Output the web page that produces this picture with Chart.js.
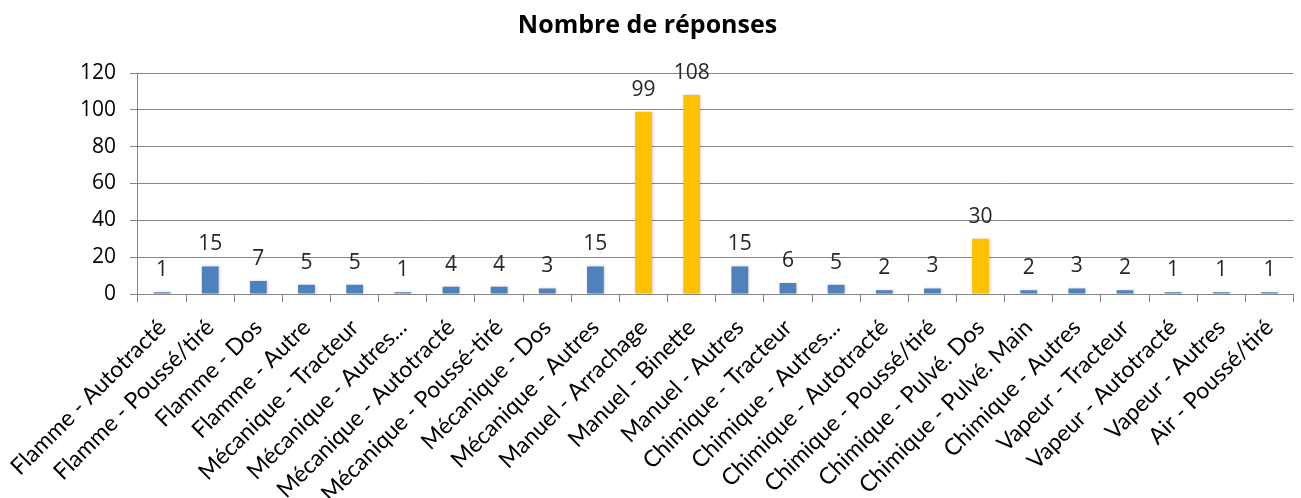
<!DOCTYPE html>
<html>
<head>
<meta charset="utf-8">
<script src="https://cdn.jsdelivr.net/npm/chart.js@4/dist/chart.umd.min.js"></script>
<style>
  html, body { margin: 0; padding: 0; background: #fff; }
  #wrap { width: 1301px; height: 498px; }
</style>
</head>
<body>
<div id="wrap"><canvas id="chart"></canvas></div>
<script>
const categories = [
  'Flamme - Autotracté', 'Flamme - Poussé/tiré', 'Flamme - Dos', 'Flamme - Autre',
  'Mécanique - Tracteur', 'Mécanique - Autres...', 'Mécanique - Autotracté',
  'Mécanique - Poussé-tiré', 'Mécanique - Dos', 'Mécanique - Autres',
  'Manuel - Arrachage', 'Manuel - Binette', 'Manuel - Autres',
  'Chimique - Tracteur', 'Chimique - Autres...', 'Chimique - Autotracté',
  'Chimique - Poussé/tiré', 'Chimique - Pulvé. Dos', 'Chimique - Pulvé. Main',
  'Chimique - Autres', 'Vapeur - Tracteur', 'Vapeur - Autotracté',
  'Vapeur - Autres', 'Air - Poussé/tiré'
];
const responses = [1, 15, 7, 5, 5, 1, 4, 4, 3, 15, 99, 108, 15, 6, 5, 2, 3, 30, 2, 3, 2, 1, 1, 1];
// highlighted bars (gold) vs the rest (blue)
const highlighted = ['Manuel - Arrachage', 'Manuel - Binette', 'Chimique - Pulvé. Dos'];
const yTicks = [0, 20, 40, 60, 80, 100, 120];

const blue = '#4F81BD';
const gold = '#FFC000';
const barColours = categories.map(c => highlighted.includes(c) ? gold : blue);

// Value labels above each bar.
const valueLabels = {
  id: 'valueLabels',
  afterDatasetsDraw(chart) {
    const ctx = chart.ctx;
    const meta = chart.getDatasetMeta(0);
    ctx.save();
    ctx.fillStyle = '#262626';
    ctx.font = '21px "Open Sans"';
    ctx.textAlign = 'center';
    ctx.textBaseline = 'alphabetic';
    meta.data.forEach((bar, i) => {
      ctx.fillText(String(responses[i]), bar.x, bar.y - 16);
    });
    ctx.restore();
  }
};

// Soft shadow on the bars, like the original.
const barShadow = {
  id: 'barShadow',
  beforeDatasetDraw(chart) {
    const ctx = chart.ctx;
    ctx.save();
    ctx.shadowColor = 'rgba(0,0,0,0.2)';
    ctx.shadowBlur = 3;
    ctx.shadowOffsetX = 1;
    ctx.shadowOffsetY = 0;
  },
  afterDatasetDraw(chart) {
    chart.ctx.restore();
  }
};

new Chart(document.getElementById('chart'), {
  type: 'bar',
  data: {
    labels: categories,
    datasets: [{
      label: 'Nombre de réponses',
      data: responses,
      backgroundColor: barColours,
      borderWidth: 0,
      barPercentage: 0.7,
      categoryPercentage: 0.5
    }]
  },
  options: {
    responsive: true,
    maintainAspectRatio: false,
    animation: false,
    layout: { padding: { left: 0, right: 6, top: 0, bottom: 0 } },
    plugins: {
      legend: { display: false },
      tooltip: { enabled: false },
      title: {
        display: true,
        text: 'Nombre de réponses',
        color: '#000',
        font: { family: 'Open Sans', size: 25, weight: 'bold' },
        padding: { top: 11, bottom: 32 }
      }
    },
    scales: {
      x: {
        grid: {
          display: true,
          drawOnChartArea: false,
          drawTicks: true,
          tickLength: 8,
          color: '#868686',
          offset: true
        },
        border: { color: '#868686' },
        ticks: {
          color: '#000',
          font: { family: 'Lato', size: 23 },
          minRotation: 45,
          maxRotation: 45,
          autoSkip: false,
          padding: 12,
          labelOffset: 0
        },
        afterFit(scale) { scale.height = 204; }
      },
      y: {
        min: 0,
        max: 120,
        afterBuildTicks(scale) { scale.ticks = yTicks.map(v => ({ value: v })); },
        grid: { color: '#868686', tickLength: 8 },
        border: { color: '#868686' },
        ticks: {
          color: '#000',
          font: { family: 'Open Sans', size: 21 },
          padding: 14
        },
        afterFit(scale) { scale.width = 135; }
      }
    }
  },
  plugins: [barShadow, valueLabels]
});
</script>
</body>
</html>
